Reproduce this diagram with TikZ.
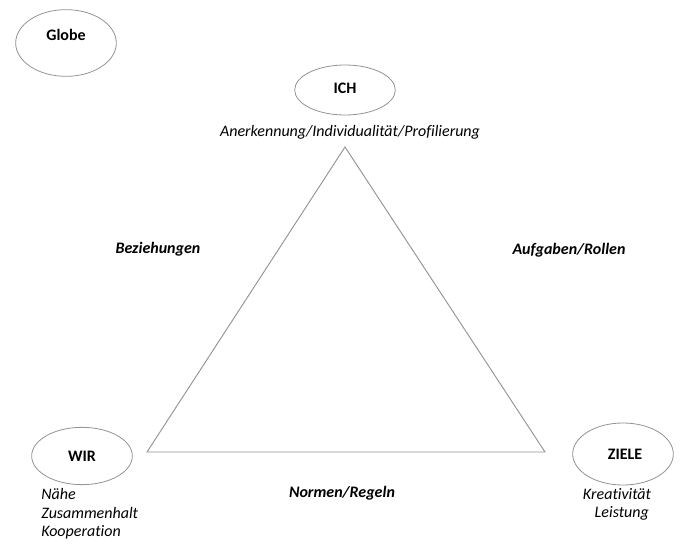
\documentclass[tikz,border=0pt]{standalone}
\usepackage{fontspec}
\setmainfont{Carlito}[Ligatures=CommonOff]
\usetikzlibrary{shapes.geometric,positioning}

\begin{document}
\begin{tikzpicture}[
    x=0.75pt, y=-0.75pt,
    font=\fontsize{12}{14}\selectfont,
    pole/.style={ellipse, draw=gray!85, line width=0.6pt, inner sep=0pt, minimum width=75.5pt, font=\fontsize{12}{14}\selectfont\bfseries},
    desc/.style={font=\fontsize{12}{14}\selectfont\itshape, inner sep=0pt},
    side/.style={font=\fontsize{12}{14}\selectfont\bfseries\itshape, inner sep=0pt},
    edge/.style={draw=gray!85, line width=0.7pt}
]
\useasboundingbox (0,0) rectangle (685,545);

% Poles
\node[pole, minimum height=50pt, label={[yshift=6pt, font=\fontsize{12}{14}\selectfont\bfseries]center:Globe}] (globe) at (66,43) {};
\node[pole, minimum height=37.5pt] (ich) at (345,90) {\raisebox{2pt}{ICH}};
\node[pole, minimum height=43pt] (wir) at (82,456) {WIR};
\node[pole, minimum height=46.5pt] (ziele) at (623,454) {\hspace*{3pt}ZIELE};

% Descriptions
\node[desc] (ichdesc) at (350,132) {Anerkennung/Individualität/Profilierung};
\node[desc, align=left, anchor=north west] (wirdesc) at (41,488) {Nähe\\Zusammenhalt\\Kooperation};
\node[desc, align=center, anchor=north] (zieledesc) at (617,488) {Kreativität\\\hspace*{0.6em}Leistung};

% Triangle
\coordinate (top) at (345,147);
\coordinate (left) at (147,452);
\coordinate (right) at (545,452);
\draw[edge] (top) -- (left) -- (right) -- cycle;

% Sides
\node[side] (bez) at (158,249) {Beziehungen};
\node[side] (auf) at (569,250) {Aufgaben/Rollen};
\node[side] (norm) at (342,493) {Normen/Regeln};

\end{tikzpicture}
\end{document}
